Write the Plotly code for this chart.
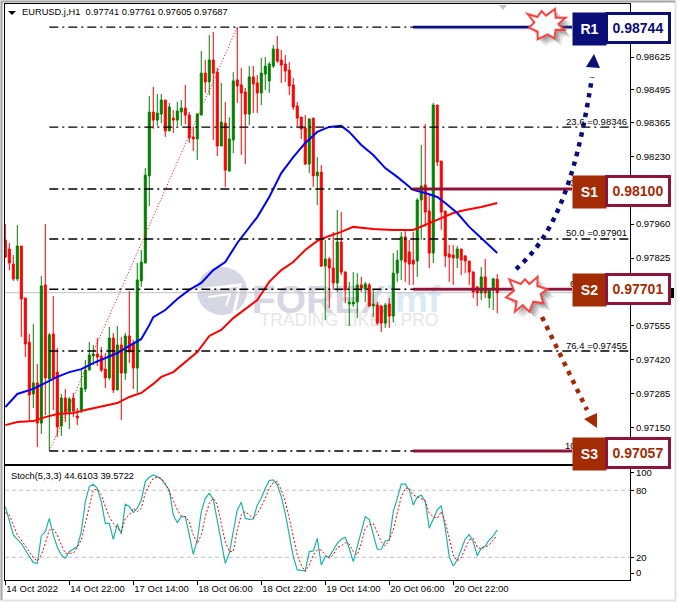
import math
import plotly.graph_objects as go

W, H = 679, 603
FONT = "Liberation Sans"

# ---------- data (prices in 1e-5 points) ----------
open_pts = [97897,97861,97801,97742,97873,97666,97491,97284,97328,97168,97718,97344,97523,97371,97157,97268,97212,97268,97196,97220,
97304,97379,97435,97443,97435,97383,97348,97507,97300,97479,97367,97515,97487,97387,97734,97805,98152,98406,98374,98398,
98454,98331,98382,98374,98406,98422,98394,98307,98299,98394,98561,98526,98613,98565,98271,98362,98171,98295,98534,98514,
98486,98398,98546,98522,98482,98557,98530,98589,98657,98613,98597,98573,98514,98430,98386,98343,98199,98382,98152,98167,
97793,97821,97785,97726,97889,97769,97642,97642,97650,97718,97702,97718,97634,97638,97634,97566,97642,97594,97765,97817,
97909,97849,97817,97813,98056,98116,98012,97845,98434,98211,98012,97841,97837,97825,97861,97833,97813,97769,97710,97686,
97750,97666,97698,97741]
high_pts = [97960,97885,97837,97956,97873,97666,97523,97562,97403,97754,97960,97527,97674,97467,97284,97304,97272,97288,97228,97379,
97419,97491,97479,97507,97471,97447,97551,97527,97555,97511,97527,97694,97499,97805,97857,98183,98470,98506,98478,98478,
98454,98442,98414,98446,98454,98514,98406,98347,98402,98649,98613,98713,98725,98581,98522,98446,98386,98565,98744,98581,
98502,98589,98589,98553,98621,98625,98605,98673,98709,98653,98633,98605,98542,98446,98386,98394,98382,98382,98227,98195,
97897,97829,97929,98016,98008,97773,97730,97769,97765,97750,97730,97726,97698,97650,97638,97646,97666,97845,97857,97929,
97937,97897,97929,98064,98275,98358,98076,98442,98434,98211,98012,97877,97877,97873,97861,97837,97813,97773,97714,97789,
97821,97706,97746,97761]
low_pts = [97825,97777,97734,97734,97511,97431,97180,97228,97073,97125,97200,97057,97220,97113,97117,97172,97145,97192,97160,97208,
97292,97379,97399,97395,97371,97308,97340,97288,97300,97180,97340,97407,97304,97288,97710,97805,98032,98339,98351,98362,
98307,98331,98323,98351,98351,98358,98283,98251,98215,98394,98482,98474,98295,98231,98271,98108,98171,98243,98442,98235,
98199,98354,98402,98402,98434,98494,98482,98581,98601,98522,98526,98474,98414,98347,98299,98195,98163,98108,98036,97789,
97578,97626,97698,97690,97757,97646,97555,97630,97586,97690,97650,97630,97590,97558,97531,97547,97547,97570,97730,97738,
97730,97718,97718,97750,97897,97949,97785,97805,98191,97937,97789,97730,97718,97785,97757,97765,97718,97666,97634,97658,
97666,97626,97618,97605]
close_pts = [97829,97805,97742,97873,97662,97483,97280,97328,97168,97714,97348,97519,97348,97153,97268,97212,97264,97216,97188,97308,
97379,97439,97443,97431,97379,97348,97507,97300,97479,97367,97515,97451,97387,97738,97809,98155,98406,98374,98402,98454,
98331,98426,98374,98410,98422,98394,98303,98299,98398,98561,98526,98613,98561,98271,98366,98175,98299,98530,98510,98482,
98398,98546,98518,98482,98561,98589,98597,98657,98609,98593,98569,98510,98426,98382,98339,98199,98378,98152,98167,97793,
97821,97785,97726,97889,97769,97698,97650,97650,97718,97706,97722,97634,97642,97566,97566,97638,97594,97765,97817,97909,
97809,97801,97801,98056,98112,98008,97845,98434,98207,98008,97833,97829,97825,97861,97817,97813,97769,97690,97686,97750,
97686,97698,97742,97687]

blue_idx = [0,3,7,10,13,16,19,22,25,28,31,34,36,37,40,43,46,49,52,55,58,60,63,66,69,72,75,78,81,84,86,89,92,95,98,102,105,108,110,113,116,119,123]
blue_pts = [97232,97284,97304,97328,97352,97371,97383,97407,97427,97447,97475,97503,97558,97590,97618,97662,97698,97726,97777,97809,97885,97925,97988,98068,98163,98227,98283,98327,98347,98351,98327,98275,98235,98183,98148,98096,98084,98068,98044,98004,97949,97905,97845]
red_idx = [0,3,7,10,13,17,20,25,28,31,34,37,39,42,45,48,51,54,57,60,63,66,69,72,75,78,81,84,87,92,97,102,105,109,112,115,119,123]
red_pts = [97160,97172,97176,97192,97204,97208,97220,97236,97248,97272,97288,97324,97352,97371,97411,97451,97515,97539,97586,97622,97658,97730,97777,97809,97857,97893,97913,97929,97949,97941,97937,97937,97956,97984,98004,98016,98028,98044]

stoch_main = [65.4,53.4,40,36.1,32.5,26.6,20.6,15.2,14.6,39.1,43,54.9,40,29,22.1,19.1,25,27.2,29.6,43,
69.9,83.3,85.4,81.8,69.9,50.4,50.4,36.1,49.6,40.9,67.5,65.4,60,63.9,71.3,87.8,91.6,93.7,92.2,89.9,
84.8,80.3,57.9,51,56.4,56.4,40,22.7,35.5,60.9,72.8,77.3,71.9,53.4,32.5,14.6,23.6,44.5,62.4,69.3,
54.9,54,54.3,66.9,72.8,81.8,88.7,89.3,84.8,74.3,59.4,40,20.6,8.7,8.1,7.8,25.1,25.7,37,13.1,
20.6,20.6,26.6,32.5,36.1,37.9,28.1,16.1,29.6,43,56.4,54,41.5,27.2,27.2,34.6,35.5,60.9,72.8,85.4,
85.4,80.3,66.9,73.7,75.8,69.9,46,54.9,62.4,66.3,46,20.6,12.2,17.6,26.6,36.4,40.3,34,21.5,28.1,
30.1,35.5,39.1,44.6]
stoch_signal = [60,57.9,49,40,35.5,30.1,25.1,19.7,16.7,22.1,32.5,44.5,45.1,40,31,23.6,23.6,23.6,29,35.5,
50.4,65.4,80.3,80.9,75.8,65.4,56.4,50.4,46,43,54.9,57.9,63.9,60.9,63.9,77.3,84.8,90.7,91.6,90.7,
86.3,78.8,71.3,62.4,57,56.4,51.9,40,32.5,40,56.4,68.4,72.8,66.9,50.4,34,25.1,25.1,44.5,57.9,
60.9,57.9,54.9,59.4,65.4,72.8,81.8,86.9,87.8,80.3,69.9,54.9,37,22.1,13.1,7.2,13.1,22.1,26.6,26.6,
22.1,19.1,22.1,29,30.1,33.1,31.9,25.1,22.1,32.5,46,49,50.4,41.5,34,30.1,35.5,44.5,60.9,74.3,
81.8,81.8,75.8,74.3,72.8,70.7,59.4,56.4,54.9,60.9,51.9,37,22.1,16.7,19.7,28.1,35.5,37,29,27.5,
29,31,35.5,39.6]

fib_names = ["0.0", "23.6", "38.2", "50.0", "61.8", "76.4", "100.0"]
fib_values = [0.98744, 0.98346, 0.98100, 0.97901, 0.97701, 0.97455, 0.97057]
fib_anchor_idx = [11, 58]
price_ticks = [0.98625,0.98495,0.98365,0.98230,0.97960,0.97825,0.97555,0.97420,0.97285,0.97150]
time_idx = [0,16,32,48,64,80,96,112]
time_labels = ["14 Oct 2022","14 Oct 22:00","17 Oct 14:00","18 Oct 06:00","18 Oct 22:00","19 Oct 14:00","20 Oct 06:00","20 Oct 22:00"]
stoch_tick_pos = [95.5, 80, 20, 5.9]
stoch_tick_text = ["100", "80", "20", "0"]
level_names = ["R1", "S1", "S2", "S3"]
level_values = [0.98744, 0.98100, 0.97701, 0.97057]
last_close = 0.97687
fib_fragments = [("3", 0.98100, 568), ("6", 0.97701, 568), ("10", 0.97057, 563)]

xs = list(range(len(open_pts)))
P = lambda a: [v / 1e5 for v in a]

def fx(x): return x / W
def fy(y): return 1 - y / H
def poly(pts, close=True):
    s = "M" + " L".join(f"{fx(x):.5f},{fy(y):.5f}" for x, y in pts)
    return s + (" Z" if close else "")
def paper_shape(path, **kw):
    d = dict(type="path", path=path, xref="paper", yref="paper")
    d.update(kw)
    return d

GREEN, RED, NAVY, BROWN, MAROON = "#008000", "#ff0000", "#0a0f78", "#a32c05", "#8e1338"

fig = go.Figure()
fig.add_trace(go.Candlestick(
    x=xs, open=P(open_pts), high=P(high_pts), low=P(low_pts), close=P(close_pts),
    increasing=dict(line=dict(color=GREEN, width=1), fillcolor=GREEN),
    decreasing=dict(line=dict(color=RED, width=1), fillcolor=RED),
    whiskerwidth=0, xaxis="x", yaxis="y", hoverinfo="skip"))
fig.add_trace(go.Scatter(x=fib_anchor_idx, y=[fib_values[-1], fib_values[0]], mode="lines",
    line=dict(color=RED, width=1, dash="1px,2px"), xaxis="x", yaxis="y"))
fig.add_trace(go.Scatter(x=red_idx, y=P(red_pts), mode="lines", line=dict(color=RED, width=2), xaxis="x", yaxis="y"))
fig.add_trace(go.Scatter(x=blue_idx, y=P(blue_pts), mode="lines", line=dict(color="#0000ff", width=2), xaxis="x", yaxis="y"))
fig.add_trace(go.Scatter(x=xs, y=stoch_main, mode="lines", line=dict(color="#20b2aa", width=1.2), xaxis="x2", yaxis="y2"))
fig.add_trace(go.Scatter(x=xs, y=stoch_signal, mode="lines", line=dict(color=RED, width=1, dash="2px,2px"), xaxis="x2", yaxis="y2"))

shapes = []
# window frame: light right/bottom, darker left/top
shapes.append(dict(type="rect", xref="paper", yref="paper", x0=fx(1.5), x1=fx(675.5), y0=fy(600.5), y1=fy(1.5),
                   line=dict(color="#e2e2e2", width=2), layer="below"))
shapes.append(paper_shape(poly([(1.5,600),(1.5,1.5),(675,1.5)], close=False), line=dict(color="#a6a6a6", width=2), layer="below"))
shapes.append(paper_shape(poly([(499,5),(507,5),(503,10)]), fillcolor="#c0c0c0", line=dict(width=0)))
shapes.append(paper_shape(poly([(8,11),(16,11),(12,15)]), fillcolor="#000", line=dict(width=0)))
shapes.append(paper_shape(poly([(671,288),(674,288),(674,298),(671,298)]), fillcolor="#000", line=dict(width=0)))
# watermark
circle = [(222 + 25 * math.cos(k * math.pi / 18), 291 + 24 * math.sin(k * math.pi / 18)) for k in range(36)]
shapes.append(paper_shape(poly(circle), fillcolor="#d6d7e3", line=dict(width=0), layer="below"))
shapes.append(paper_shape(poly([(197,290),(240,285),(234,312)], close=False), line=dict(color="white", width=3), layer="below"))
shapes.append(paper_shape(poly([(208,297),(230,294),(226,306)], close=False), line=dict(color="white", width=2), layer="below"))
for txt, x0, x1, y0, y1, col, size, bold in [
    ("FOREX", 254, 384, 280, 310, "#d6d7e3", 39, True),
    ("imf", 383, 442, 280, 310, "#dbe9f4", 37, True),
    ("TRADING LIKE A PRO", 256, 442, 312, 325, "#e6e6e6", 17.5, False)]:
    shapes.append(dict(type="rect", xref="paper", yref="paper", x0=fx(x0), x1=fx(x1), y0=fy(y1), y1=fy(y0),
                       line=dict(width=0), fillcolor="rgba(0,0,0,0)", layer="below",
                       label=dict(text=f"<b>{txt}</b>" if bold else txt, textposition="middle center",
                                  font=dict(family=FONT, size=size, color=col))))
shapes.append(dict(type="line", xref="paper", yref="y", x0=fx(5), x1=fx(630), y0=last_close, y1=last_close,
                   line=dict(color="#c0c0c0", width=1), layer="below"))
for v in fib_values:
    shapes.append(dict(type="line", xref="x", yref="y", x0=fib_anchor_idx[0], x1=156.2, y0=v, y1=v,
                       line=dict(color="#000", width=1.4, dash="9px,4px,2px,4px")))
for v in [80, 20]:
    shapes.append(dict(type="line", xref="paper", yref="y2", x0=fx(5), x1=fx(630), y0=v, y1=v,
                       line=dict(color="#c0c0c0", width=1, dash="4px,3px"), layer="below"))
for name, v in zip(level_names, level_values):
    col = NAVY if name == "R1" else MAROON
    fringe = "rgba(10,15,120,0.35)" if name == "R1" else "rgba(142,19,56,0.3)"
    shapes.append(dict(type="line", xref="paper", yref="y", x0=fx(413), x1=fx(572), y0=v, y1=v, line=dict(color=fringe, width=4)))
    shapes.append(dict(type="line", xref="paper", yref="y", x0=fx(413), x1=fx(572), y0=v, y1=v, line=dict(color=col, width=2.4)))
shapes.append(paper_shape(f"M{fx(516):.5f},{fy(269):.5f} C{fx(550):.5f},{fy(240):.5f} {fx(575):.5f},{fy(190):.5f} {fx(592):.5f},{fy(77):.5f}",
                          line=dict(color=NAVY, width=4.5, dash="4.5px,5.5px")))
shapes.append(paper_shape(poly([(594,54),(586,67),(600,68)]), fillcolor=NAVY, line=dict(width=0)))
shapes.append(paper_shape(poly([(542,317),(587,410)], close=False), line=dict(color=BROWN, width=4.5, dash="4.5px,5.5px")))
shapes.append(paper_shape(poly([(597,428),(584,419),(597,413)]), fillcolor=BROWN, line=dict(width=0)))
star_r1 = [(8,27),(37,36),(50,18),(63,32),(90,12),(92,38),(122,38),(100,57),(118,75),(92,74),(88,100),(68,88),(38,103),(38,80),(12,68),(28,52)]
star_s2 = [(28,28),(62,42),(75,28),(88,42),(113,20),(112,48),(142,58),(122,72),(130,100),(100,95),(88,125),(68,105),(45,125),(50,95),(18,82),(42,62)]
for pts, ox, oy in [(star_r1, 525, 5), (star_s2, 500, 270)]:
    base = [(ox + a / 3, oy + b / 3) for a, b in pts]
    for d, op in [(7, 0.18), (5, 0.28), (3, 0.38)]:
        shapes.append(paper_shape(poly([(a + d, b + d) for a, b in base]), fillcolor="#707070", opacity=op, line=dict(width=0)))
    shapes.append(paper_shape(poly(base), fillcolor="white", line=dict(color="#ff4040", width=2)))

ann = []
ann.append(dict(xref="paper", yref="paper", x=fx(20), y=fy(12.5), xanchor="left", yanchor="middle", showarrow=False,
                text="EURUSD.j,H1  0.97741 0.97761 0.97605 0.97687", font=dict(family=FONT, size=9.3, color="#000")))
ann.append(dict(xref="paper", yref="paper", x=fx(9), y=fy(475.5), xanchor="left", yanchor="middle", showarrow=False,
                text="Stoch(5,3,3) 44.6103 39.5722", font=dict(family=FONT, size=9.3, color="#000")))
for n, v in zip(fib_names, fib_values):
    if n in ("23.6", "50.0", "76.4"):
        ann.append(dict(xref="paper", yref="y", x=fx(629), y=v, yshift=6, xanchor="right", yanchor="middle", showarrow=False,
                        text=f"{n} ={v:.5f}", font=dict(family=FONT, size=9.5, color="#000")))
for t, v, px in fib_fragments:
    ann.append(dict(xref="paper", yref="y", x=fx(px), y=v, yshift=6, xanchor="left", yanchor="middle", showarrow=False,
                    text=t, font=dict(family=FONT, size=9.5, color="#000")))
box_tops = [12, 175, 273, 437]
for name, v, top in zip(level_names, level_values, box_tops):
    fill = NAVY if name == "R1" else BROWN
    edge = NAVY if name == "R1" else MAROON
    ann.append(dict(xref="paper", yref="paper", x=fx(572), y=fy(top), xanchor="left", yanchor="top", showarrow=False,
                    width=33, height=32, bgcolor=fill, borderpad=0, align="center", valign="middle",
                    text=f"<b>{name}</b>", font=dict(family=FONT, size=14, color="white")))
    ann.append(dict(xref="paper", yref="paper", x=fx(605), y=fy(top), xanchor="left", yanchor="top", showarrow=False,
                    width=60, height=26, bgcolor="white", bordercolor=edge, borderwidth=3, borderpad=0, align="center", valign="middle",
                    text=f"<b>{v:.5f}</b>", font=dict(family=FONT, size=14, color=NAVY if name == "R1" else BROWN)))

x_dom = [fx(5), fx(630)]
x_range = [-0.08, 156.2]
line_opts = dict(showline=True, linecolor="#000", linewidth=1, mirror=True, showgrid=False, zeroline=False)
tick_font = dict(family=FONT, size=9.5, color="#000")
fig.update_layout(
    width=W, height=H, autosize=False, margin=dict(l=0, r=0, t=0, b=0, pad=0, autoexpand=False),
    paper_bgcolor="white", plot_bgcolor="white", showlegend=False, hovermode=False,
    boxgap=0.5, boxgroupgap=0,
    shapes=shapes, annotations=ann,
    xaxis=dict(domain=x_dom, range=x_range, anchor="y", showticklabels=False, ticks="",
               rangeslider=dict(visible=False), **line_opts),
    xaxis2=dict(domain=x_dom, range=x_range, anchor="y2", tickmode="array", tickvals=time_idx, ticktext=time_labels,
                ticks="outside", ticklen=4, tickcolor="#000", ticklabelposition="outside right", tickfont=tick_font, **line_opts),
    yaxis=dict(domain=[fy(464), fy(4)], range=[(98852 - 3.98*464)/1e5, (98852 - 3.98*4)/1e5], anchor="x", side="right",
               tickmode="array", tickvals=price_ticks, ticktext=[f"{t:.5f}" for t in price_ticks],
               ticks="outside", ticklen=3, tickcolor="#000", tickfont=tick_font, **line_opts),
    yaxis2=dict(domain=[fy(580), fy(466)], range=[-0.3, 101.7], anchor="x2", side="right",
                tickmode="array", tickvals=stoch_tick_pos, ticktext=stoch_tick_text,
                ticks="outside", ticklen=3, tickcolor="#000", tickfont=tick_font, **line_opts),
)
fig.write_html("out.html", config=dict(displayModeBar=False), post_script="document.body.style.margin='0';")
